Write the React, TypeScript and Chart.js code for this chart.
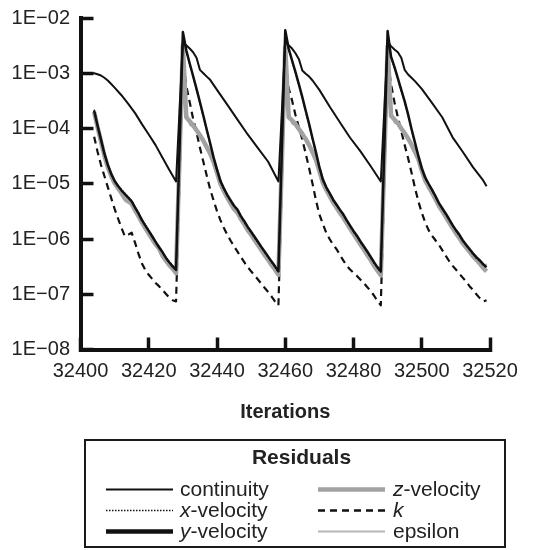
import React, { useEffect, useRef } from "react";
import { Chart, registerables } from "chart.js";

Chart.register(...registerables);

const FONT = "'Liberation Sans', Arial, Helvetica, sans-serif";

// ---- axis ticks / texts ----
const xTickValues = [32400, 32420, 32440, 32460, 32480, 32500, 32520];
const yTickValues = [1e-8, 1e-7, 1e-6, 1e-5, 1e-4, 1e-3, 1e-2];
const xAxisTitle = "Iterations";
const legendTitle = "Residuals";
const seriesNames = ["continuity", "x-velocity", "y-velocity", "z-velocity", "k", "epsilon"];

// ---- continuity (own iteration list) ----
const contIter = [
  32401, 32402, 32403, 32404, 32405, 32406, 32407, 32408, 32409, 32410, 32412, 32414, 32416, 32418, 32420, 32422, 32424, 32426, 32428,
  32430, 32431, 32432, 32433, 32434, 32435, 32436, 32437, 32438, 32440, 32443, 32446, 32449, 32452, 32455, 32458,
  32460, 32461, 32462, 32463, 32464, 32465, 32466, 32467, 32468, 32470, 32473, 32476, 32479, 32482, 32485, 32488,
  32490, 32491, 32492, 32493, 32494, 32495, 32496, 32497, 32498, 32500, 32503, 32506, 32509, 32512, 32515, 32518, 32519,
];
const continuity = [
  1.0e-3, 1.0e-3, 1.0e-3, 1.0e-3, 9.6e-4, 9.1e-4, 8.3e-4, 7.4e-4, 6.4e-4, 5.5e-4, 4.0e-4, 2.8e-4, 1.9e-4, 1.2e-4, 7.8e-5, 5.0e-5, 3.0e-5, 1.8e-5, 1.1e-5,
  3.7e-3, 3.2e-3, 2.8e-3, 2.4e-3, 1.9e-3, 1.15e-3, 1.0e-3, 8.7e-4, 7.6e-4, 5.0e-4, 2.7e-4, 1.45e-4, 7.8e-5, 4.4e-5, 2.5e-5, 1.1e-5,
  3.6e-3, 3.2e-3, 2.8e-3, 2.3e-3, 1.8e-3, 1.12e-3, 9.8e-4, 8.7e-4, 7.4e-4, 5.0e-4, 2.5e-4, 1.3e-4, 6.8e-5, 3.9e-5, 2.1e-5, 1.1e-5,
  3.7e-3, 3.1e-3, 2.7e-3, 2.4e-3, 1.9e-3, 1.15e-3, 9.5e-4, 8.3e-4, 7.2e-4, 5.2e-4, 2.9e-4, 1.6e-4, 7.0e-5, 3.8e-5, 2.0e-5, 1.15e-5, 9.0e-6,
];

// ---- iterations shared by the velocities, k and epsilon ----
const velIter = [
  32404, 32405, 32406, 32407, 32408, 32409, 32410, 32411, 32412, 32413, 32414, 32415, 32416, 32417, 32418, 32419, 32420, 32421, 32422, 32423, 32424, 32425, 32426, 32427, 32428,
  32430, 32431, 32432, 32433, 32434, 32435, 32436, 32437, 32438, 32439, 32440, 32441, 32442, 32443, 32444, 32445, 32446, 32447, 32448, 32449, 32450, 32451, 32452, 32453, 32454, 32455, 32456, 32457, 32458,
  32460, 32461, 32462, 32463, 32464, 32465, 32466, 32467, 32468, 32469, 32470, 32471, 32472, 32473, 32474, 32475, 32476, 32477, 32478, 32479, 32480, 32481, 32482, 32483, 32484, 32485, 32486, 32487, 32488,
  32490, 32491, 32492, 32493, 32494, 32495, 32496, 32497, 32498, 32499, 32500, 32501, 32502, 32503, 32504, 32505, 32506, 32507, 32508, 32509, 32510, 32511, 32512, 32513, 32514, 32515, 32516, 32517, 32518, 32519,
];

const xVelocity = [
  2.2e-4, 1.15e-4, 6.5e-5, 3.6e-5, 2.25e-5, 1.55e-5, 1.15e-5, 9.3e-6, 7.8e-6, 6.7e-6, 5.7e-6, 4.9e-6, 3.8e-6, 3.0e-6, 2.25e-6, 1.8e-6, 1.43e-6, 1.15e-6, 9.1e-7, 7.3e-7, 5.9e-7, 4.7e-7, 3.9e-7, 3.3e-7, 2.8e-7,
  5.4e-3, 2.5e-3, 1.45e-3, 8.6e-4, 5.0e-4, 2.9e-4, 1.65e-4, 9.2e-5, 5.2e-5, 2.9e-5, 1.75e-5, 1.08e-5, 8.0e-6, 6.1e-6, 4.8e-6, 3.9e-6, 3.3e-6, 2.5e-6, 2.0e-6, 1.6e-6, 1.3e-6, 1.06e-6, 8.6e-7, 7.0e-7, 5.7e-7, 4.6e-7, 3.8e-7, 3.1e-7, 2.5e-7,
  5.8e-3, 2.7e-3, 1.65e-3, 1.0e-3, 6.1e-4, 3.6e-4, 2.0e-4, 1.15e-4, 6.4e-5, 3.6e-5, 1.95e-5, 1.16e-5, 8.4e-6, 6.6e-6, 5.0e-6, 4.1e-6, 3.3e-6, 2.7e-6, 2.1e-6, 1.7e-6, 1.35e-6, 1.1e-6, 8.8e-7, 7.2e-7, 5.8e-7, 4.6e-7, 3.7e-7, 3.0e-7, 2.5e-7,
  5.6e-3, 1.95e-3, 1.25e-3, 7.8e-4, 4.8e-4, 3.0e-4, 1.75e-4, 9.5e-5, 5.4e-5, 3.1e-5, 1.85e-5, 1.25e-5, 9.7e-6, 7.5e-6, 5.8e-6, 4.4e-6, 3.5e-6, 2.8e-6, 2.2e-6, 1.75e-6, 1.4e-6, 1.16e-6, 9.2e-7, 7.6e-7, 6.4e-7, 5.3e-7, 4.5e-7, 4.0e-7, 3.4e-7, 3.0e-7,
];

const yVelocity = [
  2.1e-4, 1.12e-4, 6.3e-5, 3.5e-5, 2.2e-5, 1.5e-5, 1.12e-5, 9.1e-6, 7.6e-6, 6.5e-6, 5.6e-6, 4.8e-6, 3.7e-6, 2.9e-6, 2.2e-6, 1.75e-6, 1.4e-6, 1.12e-6, 8.9e-7, 7.1e-7, 5.8e-7, 4.6e-7, 3.8e-7, 3.2e-7, 2.75e-7,
  5.6e-3, 2.6e-3, 1.5e-3, 8.9e-4, 5.2e-4, 3.0e-4, 1.7e-4, 9.5e-5, 5.4e-5, 3.0e-5, 1.8e-5, 1.12e-5, 8.3e-6, 6.3e-6, 5.0e-6, 4.0e-6, 3.4e-6, 2.6e-6, 2.1e-6, 1.66e-6, 1.35e-6, 1.1e-6, 8.9e-7, 7.2e-7, 5.9e-7, 4.8e-7, 3.9e-7, 3.2e-7, 2.6e-7,
  6.0e-3, 2.8e-3, 1.7e-3, 1.05e-3, 6.3e-4, 3.7e-4, 2.1e-4, 1.2e-4, 6.6e-5, 3.7e-5, 2.0e-5, 1.2e-5, 8.7e-6, 6.8e-6, 5.2e-6, 4.2e-6, 3.4e-6, 2.8e-6, 2.2e-6, 1.75e-6, 1.4e-6, 1.15e-6, 9.1e-7, 7.4e-7, 6.0e-7, 4.8e-7, 3.8e-7, 3.1e-7, 2.6e-7,
  5.8e-3, 2.0e-3, 1.3e-3, 8.1e-4, 5.0e-4, 3.1e-4, 1.8e-4, 9.8e-5, 5.6e-5, 3.2e-5, 1.9e-5, 1.3e-5, 1.0e-5, 7.8e-6, 6.0e-6, 4.5e-6, 3.6e-6, 2.9e-6, 2.3e-6, 1.8e-6, 1.45e-6, 1.2e-6, 9.5e-7, 7.9e-7, 6.6e-7, 5.5e-7, 4.7e-7, 4.1e-7, 3.5e-7, 3.1e-7,
];

const zVelocity = [
  2.0e-4, 1.05e-4, 5.8e-5, 3.2e-5, 2.0e-5, 1.38e-5, 1.02e-5, 8.3e-6, 6.8e-6, 5.4e-6, 5.0e-6, 4.3e-6, 3.3e-6, 2.6e-6, 2.0e-6, 1.58e-6, 1.25e-6, 1.0e-6, 8.0e-7, 6.8e-7, 5.0e-7, 4.1e-7, 3.4e-7, 2.9e-7, 2.4e-7,
  3.2e-3, 1.6e-4, 1.35e-4, 1.15e-4, 9.3e-5, 7.6e-5, 6.0e-5, 4.6e-5, 3.5e-5, 2.5e-5, 1.6e-5, 1.0e-5, 7.4e-6, 5.6e-6, 4.4e-6, 3.5e-6, 3.0e-6, 2.3e-6, 1.85e-6, 1.45e-6, 1.2e-6, 9.6e-7, 7.8e-7, 6.3e-7, 5.1e-7, 4.2e-7, 3.4e-7, 2.8e-7, 2.25e-7,
  3.0e-3, 1.6e-4, 1.4e-4, 1.2e-4, 9.8e-5, 8.0e-5, 6.4e-5, 5.0e-5, 3.7e-5, 2.7e-5, 1.7e-5, 1.05e-5, 7.8e-6, 6.0e-6, 4.6e-6, 3.7e-6, 3.0e-6, 2.45e-6, 1.95e-6, 1.55e-6, 1.25e-6, 1.0e-6, 8.0e-7, 6.5e-7, 5.2e-7, 4.2e-7, 3.3e-7, 2.7e-7, 2.2e-7,
  3.1e-3, 1.7e-4, 1.45e-4, 1.25e-4, 1.0e-4, 8.2e-5, 6.6e-5, 5.1e-5, 3.8e-5, 2.8e-5, 1.75e-5, 1.15e-5, 8.8e-6, 6.9e-6, 5.3e-6, 4.0e-6, 3.2e-6, 2.55e-6, 2.0e-6, 1.6e-6, 1.28e-6, 1.05e-6, 8.4e-7, 7.0e-7, 5.9e-7, 4.9e-7, 4.2e-7, 3.6e-7, 3.0e-7, 2.6e-7,
];

const kResidual = [
  7.1e-5, 3.8e-5, 2.2e-5, 1.38e-5, 8.7e-6, 5.5e-6, 3.5e-6, 2.35e-6, 1.6e-6, 1.12e-6, 1.2e-6, 1.3e-6, 8.5e-7, 5.4e-7, 3.6e-7, 2.75e-7, 2.25e-7, 1.9e-7, 1.6e-7, 1.4e-7, 1.2e-7, 1.02e-7, 8.7e-8, 7.8e-8, 7.4e-8,
  1.8e-3, 6.0e-4, 3.0e-4, 1.5e-4, 8.5e-5, 4.5e-5, 2.5e-5, 1.4e-5, 7.9e-6, 5.0e-6, 3.2e-6, 2.2e-6, 1.6e-6, 1.2e-6, 9.3e-7, 7.4e-7, 5.9e-7, 4.7e-7, 3.8e-7, 3.1e-7, 2.6e-7, 2.2e-7, 1.85e-7, 1.55e-7, 1.3e-7, 1.1e-7, 9.1e-8, 7.4e-8, 6.3e-8,
  1.9e-3, 5.4e-4, 3.2e-4, 1.75e-4, 1.05e-4, 6.3e-5, 3.5e-5, 1.9e-5, 1.0e-5, 5.0e-6, 2.8e-6, 1.9e-6, 1.3e-6, 1.0e-6, 7.9e-7, 6.6e-7, 5.2e-7, 4.1e-7, 3.3e-7, 2.8e-7, 2.45e-7, 2.15e-7, 1.85e-7, 1.6e-7, 1.35e-7, 1.15e-7, 9.5e-8, 7.6e-8, 6.3e-8,
  1.8e-3, 6.3e-4, 3.0e-4, 1.6e-4, 8.9e-5, 5.0e-5, 2.9e-5, 1.6e-5, 8.5e-6, 4.8e-6, 3.0e-6, 2.0e-6, 1.45e-6, 1.15e-6, 9.5e-7, 7.9e-7, 6.3e-7, 5.0e-7, 4.0e-7, 3.3e-7, 2.8e-7, 2.35e-7, 2.0e-7, 1.7e-7, 1.4e-7, 1.2e-7, 1.0e-7, 8.5e-8, 7.4e-8, 7.8e-8,
];

const epsilon = [
  1.95e-4, 1.02e-4, 5.6e-5, 3.1e-5, 1.95e-5, 1.35e-5, 1.0e-5, 8.6e-6, 7.2e-6, 4.8e-6, 4.4e-6, 4.4e-6, 3.4e-6, 2.7e-6, 2.05e-6, 1.62e-6, 1.28e-6, 1.03e-6, 8.2e-7, 6.4e-7, 5.2e-7, 4.2e-7, 3.5e-7, 3.0e-7, 2.5e-7,
  3.5e-3, 2.1e-4, 1.15e-4, 1.05e-4, 9.5e-5, 7.8e-5, 6.1e-5, 4.7e-5, 3.6e-5, 2.6e-5, 1.65e-5, 1.03e-5, 7.6e-6, 5.8e-6, 4.5e-6, 3.6e-6, 3.05e-6, 2.35e-6, 1.9e-6, 1.5e-6, 1.22e-6, 9.8e-7, 8.0e-7, 6.4e-7, 5.2e-7, 4.3e-7, 3.5e-7, 2.85e-7, 2.3e-7,
  3.3e-3, 2.2e-4, 1.2e-4, 1.15e-4, 1.0e-4, 8.2e-5, 6.5e-5, 5.1e-5, 3.8e-5, 2.75e-5, 1.75e-5, 1.08e-5, 8.0e-6, 6.1e-6, 4.7e-6, 3.8e-6, 3.1e-6, 2.5e-6, 2.0e-6, 1.58e-6, 1.27e-6, 1.02e-6, 8.2e-7, 6.6e-7, 5.3e-7, 4.3e-7, 3.4e-7, 2.75e-7, 2.25e-7,
  3.4e-3, 2.3e-4, 1.25e-4, 1.2e-4, 1.05e-4, 8.4e-5, 6.8e-5, 5.2e-5, 3.9e-5, 2.85e-5, 1.8e-5, 1.18e-5, 9.0e-6, 7.0e-6, 5.4e-6, 4.1e-6, 3.3e-6, 2.6e-6, 2.05e-6, 1.63e-6, 1.3e-6, 1.07e-6, 8.6e-7, 7.2e-7, 6.0e-7, 5.0e-7, 4.3e-7, 3.6e-7, 2.8e-7, 3.6e-7,
];

function zip(xs: number[], ys: number[]) {
  const n = Math.min(xs.length, ys.length);
  const out: { x: number; y: number }[] = [];
  for (let i = 0; i < n; i++) out.push({ x: xs[i], y: ys[i] });
  return out;
}

function sciLabel(v: number) {
  const e = Math.round(Math.log10(v));
  const a = Math.abs(e);
  return "1E" + (e < 0 ? "\u2212" : "+") + (a < 10 ? "0" + a : String(a));
}

const legendPlugin = {
  id: "residualsLegend",
  afterDraw(chart: any) {
    const ctx: CanvasRenderingContext2D = chart.ctx;
    ctx.save();
    ctx.setLineDash([]);
    ctx.lineWidth = 2;
    ctx.strokeStyle = "#1a1a1a";
    ctx.strokeRect(85, 440, 420, 107);

    ctx.fillStyle = "#222";
    ctx.font = `bold 21px ${FONT}`;
    ctx.textAlign = "center";
    ctx.textBaseline = "middle";
    ctx.fillText(legendTitle, 301.5, 458);

    const cols = [
      { x0: 106, x1: 173, tx: 180 },
      { x0: 318, x1: 385, tx: 393 },
    ];
    const rows = [489.5, 510.5, 531.5];
    chart.data.datasets.forEach((ds: any, i: number) => {
      const c = cols[Math.floor(i / 3)];
      const y = rows[i % 3];
      ctx.save();
      ctx.strokeStyle = ds.borderColor;
      ctx.lineWidth = ds.legendWidth ?? ds.borderWidth;
      ctx.setLineDash(ds.borderDash ?? []);
      ctx.lineCap = "butt";
      ctx.beginPath();
      ctx.moveTo(c.x0, y);
      ctx.lineTo(c.x1, y);
      ctx.stroke();
      ctx.restore();

      const name: string = ds.label;
      ctx.textAlign = "left";
      ctx.textBaseline = "middle";
      ctx.fillStyle = "#222";
      let tx = c.tx;
      const m = /^([xyz])(-.*)$/.exec(name);
      if (m) {
        ctx.font = `italic 21px ${FONT}`;
        ctx.fillText(m[1], tx, y + 1);
        tx += ctx.measureText(m[1]).width;
        ctx.font = `21px ${FONT}`;
        ctx.fillText(m[2], tx, y + 1);
      } else if (name === "k") {
        ctx.font = `italic 21px ${FONT}`;
        ctx.fillText(name, tx, y + 1);
      } else {
        ctx.font = `21px ${FONT}`;
        ctx.fillText(name, tx, y + 1);
      }
    });
    ctx.restore();
  },
};

export default function App() {
  const ref = useRef<HTMLCanvasElement | null>(null);

  useEffect(() => {
    if (!ref.current) return;
    const chart = new Chart(ref.current, {
      type: "line",
      data: {
        datasets: [
          { label: seriesNames[0], data: zip(contIter, continuity), borderColor: "#111", borderWidth: 2, legendWidth: 2 } as any,
          { label: seriesNames[1], data: zip(velIter, xVelocity), borderColor: "#111", borderWidth: 1.5, borderDash: [1.5, 1.5], legendWidth: 1.5 } as any,
          { label: seriesNames[2], data: zip(velIter, yVelocity), borderColor: "#111", borderWidth: 2.5, legendWidth: 4.5 } as any,
          { label: seriesNames[3], data: zip(velIter, zVelocity), borderColor: "#a2a2a2", borderWidth: 4.5, legendWidth: 4.5 } as any,
          { label: seriesNames[4], data: zip(velIter, kResidual), borderColor: "#111", borderWidth: 2.2, borderDash: [7, 5], legendWidth: 2.5 } as any,
          { label: seriesNames[5], data: zip(velIter, epsilon), borderColor: "#b5b5b5", borderWidth: 1.5, legendWidth: 2 } as any,
        ],
      },
      options: {
        responsive: false,
        animation: false,
        devicePixelRatio: 1,
        layout: { padding: { top: 18, right: 61, left: 0, bottom: 0 } },
        elements: {
          point: { radius: 0, hoverRadius: 0 },
          line: { tension: 0, borderJoinStyle: "round", fill: false },
        },
        plugins: {
          legend: { display: false },
          tooltip: { enabled: false },
          title: { display: false },
        },
        scales: {
          x: {
            type: "linear",
            min: 32400,
            max: 32520,
            afterBuildTicks: (s: any) => {
              s.ticks = xTickValues.map((v) => ({ value: v }));
            },
            afterFit: (s: any) => {
              s.height = 200.5;
              s.paddingLeft = 0;
              s.paddingRight = 0;
            },
            ticks: {
              autoSkip: false,
              maxRotation: 0,
              padding: 21.5,
              color: "#222",
              font: { family: FONT, size: 20 },
              callback: (v: any) => String(v),
            },
            grid: {
              display: true,
              drawOnChartArea: false,
              drawTicks: true,
              tickLength: -12,
              tickWidth: 3.5,
              tickColor: "#111",
            },
            border: { display: true, width: 4, color: "#111" },
            title: {
              display: true,
              text: xAxisTitle,
              color: "#222",
              font: { family: FONT, size: 20, weight: "bold" },
              padding: { top: 0, bottom: 126 },
            },
          },
          y: {
            type: "logarithmic",
            min: 1e-8,
            max: 1e-2,
            afterBuildTicks: (s: any) => {
              s.ticks = yTickValues.map((v) => ({ value: v, major: true }));
            },
            afterFit: (s: any) => {
              s.width = 80.5;
              s.paddingTop = 0;
              s.paddingBottom = 0;
            },
            ticks: {
              autoSkip: false,
              padding: 23.5,
              color: "#222",
              font: { family: FONT, size: 20 },
              callback: (v: any) => sciLabel(Number(v)),
            },
            grid: {
              display: true,
              drawOnChartArea: false,
              drawTicks: true,
              tickLength: -13,
              tickWidth: 3.5,
              tickColor: "#111",
            },
            border: { display: true, width: 4, color: "#111" },
          },
        },
      } as any,
      plugins: [legendPlugin],
    });
    return () => chart.destroy();
  }, []);

  return (
    <div style={{ position: "absolute", left: 0, top: 0, width: 551, height: 550, background: "#fff" }}>
      <canvas ref={ref} width={551} height={550} style={{ display: "block", width: 551, height: 550 }} />
    </div>
  );
}
